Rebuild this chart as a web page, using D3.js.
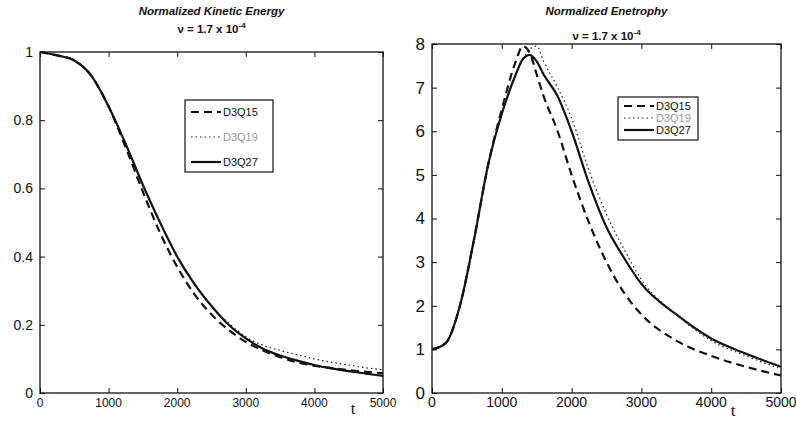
<!DOCTYPE html>
<html>
<head>
<meta charset="utf-8">
<script src="https://cdn.jsdelivr.net/npm/d3@7"></script>
<style>
  body { margin: 0; background: #fff; }
  svg text { font-family: "Liberation Sans", Arial, sans-serif; fill: #111; }
  .title { font-weight: bold; font-style: italic; }
</style>
</head>
<body>
<div id="chart"></div>
<script>
// time samples (shared)
var t_ke = [0, 250, 500, 750, 1000, 1250, 1500, 1750, 2000, 2250, 2500, 2750, 3000, 3250, 3500, 3750, 4000, 4250, 4500, 4750, 5000];
var ke_q15 = [1.0, 0.99, 0.975, 0.93, 0.84, 0.72, 0.59, 0.47, 0.37, 0.29, 0.23, 0.185, 0.15, 0.125, 0.105, 0.09, 0.08, 0.073, 0.067, 0.062, 0.058];
var ke_q19 = [1.0, 0.99, 0.975, 0.93, 0.84, 0.73, 0.61, 0.50, 0.40, 0.32, 0.255, 0.205, 0.165, 0.14, 0.125, 0.112, 0.10, 0.09, 0.082, 0.074, 0.068];
var ke_q27 = [1.0, 0.99, 0.975, 0.93, 0.84, 0.73, 0.61, 0.50, 0.40, 0.32, 0.255, 0.20, 0.16, 0.13, 0.11, 0.095, 0.082, 0.072, 0.064, 0.057, 0.05];

var t_en = [0, 200, 400, 600, 800, 1000, 1200, 1300, 1400, 1500, 1600, 1800, 2000, 2250, 2500, 2750, 3000, 3500, 4000, 4500, 5000];
var en_q15 = [1.0, 1.15, 2.0, 3.5, 5.2, 6.5, 7.6, 7.95, 7.8, 7.3, 6.8, 6.0, 5.0, 3.9, 3.0, 2.3, 1.8, 1.2, 0.85, 0.6, 0.4];
var en_q19 = [1.0, 1.15, 2.0, 3.5, 5.2, 6.4, 7.3, 7.65, 7.88, 7.95, 7.6, 7.0, 6.3, 5.1, 4.1, 3.3, 2.6, 1.8, 1.2, 0.85, 0.55];
var en_q27 = [1.0, 1.15, 2.0, 3.5, 5.2, 6.4, 7.3, 7.65, 7.75, 7.6, 7.3, 6.8, 6.0, 4.8, 3.8, 3.1, 2.5, 1.8, 1.25, 0.9, 0.6];

var series_names = ["D3Q15", "D3Q19", "D3Q27"];
var x_ticks = [0, 1000, 2000, 3000, 4000, 5000];
var ke_ticks = [0, 0.2, 0.4, 0.6, 0.8, 1];
var en_ticks = [0, 1, 2, 3, 4, 5, 6, 7, 8];

var W = 796, H = 421;
var svg = d3.select("#chart").append("svg").attr("width", W).attr("height", H);

var styles = [
  {dash: "8,5", width: 2.2, color: "#111"},
  {dash: "1.5,3", width: 1.2, color: "#222"},
  {dash: null, width: 2.2, color: "#111"}
];

function panel(p) {
  var x = d3.scaleLinear().domain([0, 5000]).range([p.left, p.right]);
  var y = d3.scaleLinear().domain([0, p.ymax]).range([p.bottom, p.top]);
  var g = svg.append("g");

  // frame
  g.append("rect")
    .attr("x", p.left).attr("y", p.top)
    .attr("width", p.right - p.left).attr("height", p.bottom - p.top)
    .attr("fill", "none").attr("stroke", "#111").attr("stroke-width", 1.3);

  // inward ticks, all four sides
  var tl = 5;
  g.append("g").attr("transform", "translate(0," + p.bottom + ")")
    .call(d3.axisTop(x).tickValues(x_ticks).tickSize(tl).tickFormat(""));
  g.append("g").attr("transform", "translate(0," + p.top + ")")
    .call(d3.axisBottom(x).tickValues(x_ticks).tickSize(tl).tickFormat(""));
  g.append("g").attr("transform", "translate(" + p.left + ",0)")
    .call(d3.axisRight(y).tickValues(p.yticks).tickSize(tl).tickFormat(""));
  g.append("g").attr("transform", "translate(" + p.right + ",0)")
    .call(d3.axisLeft(y).tickValues(p.yticks).tickSize(tl).tickFormat(""));
  g.selectAll(".domain").remove();
  g.selectAll(".tick line").attr("stroke", "#111");

  // tick labels
  g.selectAll(".xlab").data(x_ticks).enter().append("text")
    .attr("x", function(d) { return x(d); })
    .attr("y", p.bottom + 14)
    .attr("text-anchor", "middle")
    .style("font-size", p.xfs + "px")
    .text(function(d) { return d; });
  g.selectAll(".ylab").data(p.yticks).enter().append("text")
    .attr("x", p.left - 7)
    .attr("y", function(d) { return y(d); })
    .attr("dy", "0.35em")
    .attr("text-anchor", "end")
    .style("font-size", p.yfs + "px")
    .text(function(d) { return d; });

  // "t" label
  g.append("text").attr("x", p.tx).attr("y", p.ty)
    .attr("text-anchor", "middle").style("font-size", "17px")
    .style("font-family", "'Liberation Serif', serif").text("t");

  // titles
  var cx = (p.left + p.right) / 2;
  g.append("text").attr("class", "title").attr("x", cx).attr("y", 15)
    .attr("text-anchor", "middle").style("font-size", "11.5px").text(p.title);
  var nu = g.append("text").attr("x", cx).attr("y", p.nuy)
    .attr("text-anchor", "middle").style("font-size", "11.5px").style("font-weight", "bold");
  nu.append("tspan").text("\u03BD = 1.7 x 10");
  nu.append("tspan").attr("dy", -5).style("font-size", "8px").text("-4");

  // lines
  var line = d3.line()
    .x(function(d) { return x(d[0]); })
    .y(function(d) { return y(d[1]); })
    .curve(d3.curveMonotoneX);
  [2, 1, 0].forEach(function(i) {
    var pts = p.t.map(function(tv, k) { return [tv, p.series[i][k]]; });
    g.append("path").datum(pts)
      .attr("d", line)
      .attr("fill", "none")
      .attr("stroke", styles[i].color)
      .attr("stroke-width", styles[i].width)
      .attr("stroke-dasharray", styles[i].dash);
  });

  // legend
  var L = p.legend;
  g.append("rect").attr("x", L.x).attr("y", L.y).attr("width", L.w).attr("height", L.h)
    .attr("fill", "#fff").attr("stroke", "#111").attr("stroke-width", 1.2);
  series_names.forEach(function(name, i) {
    var yy = L.y + L.first + i * L.step;
    g.append("line")
      .attr("x1", L.x + 6).attr("x2", L.x + 36)
      .attr("y1", yy).attr("y2", yy)
      .attr("stroke", styles[i].color)
      .attr("stroke-width", styles[i].width)
      .attr("stroke-dasharray", styles[i].dash);
    g.append("text").attr("x", L.x + 38).attr("y", yy).attr("dy", "0.35em")
      .style("font-size", L.fs + "px")
      .style("fill", i == 1 ? "#999" : "#111")
      .text(name);
  });
}

panel({
  t: t_ke, series: [ke_q15, ke_q19, ke_q27],
  left: 40, right: 383, top: 52, bottom: 393, ymax: 1,
  yticks: ke_ticks, xfs: 12, yfs: 14,
  title: "Normalized Kinetic Energy", nuy: 33,
  tx: 353, ty: 414,
  legend: {x: 185, y: 100, w: 88, h: 72, first: 12, step: 25, fs: 11}
});

panel({
  t: t_en, series: [en_q15, en_q19, en_q27],
  left: 432, right: 781, top: 44, bottom: 393, ymax: 8,
  yticks: en_ticks, xfs: 14, yfs: 17,
  title: "Normalized Enetrophy", nuy: 40,
  tx: 733, ty: 416,
  legend: {x: 618, y: 97, w: 80, h: 43, first: 9, step: 12, fs: 11}
});
</script>
</body>
</html>
